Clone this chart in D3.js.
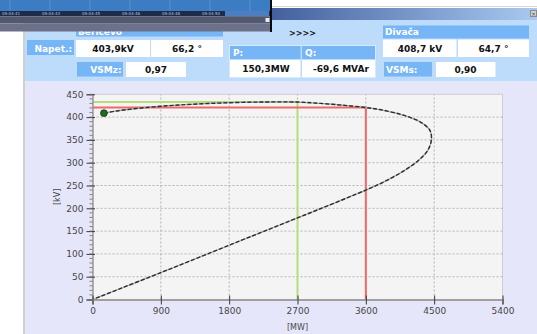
<!DOCTYPE html>
<html>
<head>
<meta charset="utf-8">
<script src="https://cdn.jsdelivr.net/npm/d3@7"></script>
<style>
  html, body { margin: 0; padding: 0; background: #ffffff; }
  svg { display: block; font-family: "DejaVu Sans", Verdana, sans-serif; }
</style>
</head>
<body>
<svg id="view" width="537" height="334"></svg>
<script>
// P-V nose curve of the line, receiving-end voltage against transferred power
const curveP = [150.3, 320, 650, 1000, 1300, 1700, 2200, 2700, 3000, 3300, 3600, 3800, 4100, 4320, 4440, 4465,
                4420, 4300, 4100, 3850, 3600, 3000, 2400, 1800, 900, 0];
const curveV = [408.7, 413.5, 420, 425, 428, 431, 433, 433, 430, 426, 421, 416, 404, 389, 372, 353,
                328, 306, 282, 259, 240, 199, 159, 119, 59, 0];

// operating point and the two limit markers
const opP = 150.3, opV = 408.7;
const redP = 3600, redV = 421;
const greenP = 2700, greenV = 433;

// axes
const xTicks = [0, 900, 1800, 2700, 3600, 4500, 5400];
const yTicks = [0, 50, 100, 150, 200, 250, 300, 350, 400, 450];
const yMinor = d3.range(0, 451, 10);

// measurement panel
const sendName = "Beričevo", recvName = "Divača";
const sendU = "403,9kV", sendAng = "66,2 °", sendVsm = "0,97";
const recvU = "408,7 kV", recvAng = "64,7 °", recvVsm = "0,90";
const flowP = "150,3MW", flowQ = "-69,6 MVAr";
const timeLabels = ["09:04:41", "09:04:43", "09:04:45", "09:04:46", "09:04:48", "09:04:50"];

const svg = d3.select("#view");
const defs = svg.append("defs");
const grad = defs.append("linearGradient").attr("id", "titleGrad");
grad.append("stop").attr("offset", "0%").attr("stop-color", "#44609e");
grad.append("stop").attr("offset", "100%").attr("stop-color", "#a9c9f0");

// window background
svg.append("rect").attr("x", 0).attr("y", 0).attr("width", 537).attr("height", 334).attr("fill", "#ffffff");
svg.append("rect").attr("x", 272).attr("y", 6).attr("width", 265).attr("height", 1).attr("fill", "#d8d8d8");
svg.append("rect").attr("x", 272).attr("y", 8).attr("width", 265).attr("height", 12).attr("fill", "url(#titleGrad)");
svg.append("rect").attr("x", 530.5).attr("y", 10.5).attr("width", 6).attr("height", 6)
  .attr("fill", "#d4d4d4").attr("stroke", "#8a8a8a");
svg.append("text").attr("x", 533.5).attr("y", 15.5).attr("text-anchor", "middle")
  .attr("font-size", 6).attr("fill", "#444").text("×");

svg.append("rect").attr("x", 23).attr("y", 20).attr("width", 2).attr("height", 314).attr("fill", "#cfcfcf");
svg.append("rect").attr("x", 25).attr("y", 20).attr("width", 512).attr("height", 61.5).attr("fill", "#bddbfb");
svg.append("rect").attr("x", 25).attr("y", 81.5).attr("width", 512).attr("height", 252.5).attr("fill", "#e6e6fa");

// panel helpers
const labelFill = "#76b6f6";
function box(x, y, w, h, fill) {
  svg.append("rect").attr("x", x).attr("y", y).attr("width", w).attr("height", h).attr("fill", fill);
}
function txt(x, y, s, opts) {
  opts = opts || {};
  svg.append("text").attr("x", x).attr("y", y)
    .attr("text-anchor", opts.anchor || "middle")
    .attr("dominant-baseline", "central")
    .attr("font-size", opts.size || 9)
    .attr("font-weight", "bold")
    .attr("fill", opts.fill || "#111")
    .text(s);
}

// sending end
box(76, 24, 147, 12.5, labelFill);
txt(78, 31.5, sendName, { anchor: "start", fill: "#ffffff" });
box(27, 40, 47, 15, labelFill);
txt(72, 48.5, "Napet.:", { anchor: "end", fill: "#ffffff" });
box(76, 40, 74, 17, "#ffffff");
txt(113, 48.5, sendU);
box(151, 40, 72, 17, "#ffffff");
txt(187, 48.5, sendAng);
box(77, 62, 46, 14.5, labelFill);
txt(121.5, 69.5, "VSMz:", { anchor: "end", fill: "#ffffff" });
box(126, 62, 60, 15, "#ffffff");
txt(156, 69.5, sendVsm);

// power flow
txt(302.5, 33.5, ">>>>", { size: 8 });
svg.append("rect").attr("x", 229.5).attr("y", 45.5).attr("width", 146).attr("height", 32)
  .attr("fill", "none").attr("stroke", "#d6eaff");
box(230, 46, 70.5, 13, labelFill);
txt(233, 52.5, "P:", { anchor: "start", fill: "#ffffff" });
box(302, 46, 73, 13, labelFill);
txt(305, 52.5, "Q:", { anchor: "start", fill: "#ffffff" });
box(230, 60, 70.5, 17, "#ffffff");
txt(266, 68.5, flowP);
box(302, 60, 73, 17, "#ffffff");
txt(341, 68.5, flowQ);

// receiving end
box(383, 25.5, 146, 13, labelFill);
txt(385, 32, recvName, { anchor: "start", fill: "#ffffff" });
box(383, 39.5, 73.5, 17.5, "#ffffff");
txt(420, 48.5, recvU);
box(458, 39.5, 71, 17.5, "#ffffff");
txt(493.5, 48.5, recvAng);
box(384, 62, 48, 14.5, labelFill);
txt(386, 69.5, "VSMs:", { anchor: "start", fill: "#ffffff" });
box(436, 62, 59.5, 15, "#ffffff");
txt(465.5, 69.5, recvVsm);

// chart
const x = d3.scaleLinear().domain([0, 5400]).range([92.5, 502.5]);
const y = d3.scaleLinear().domain([0, 450]).range([299.5, 94.3]);

const plot = svg.append("g");
plot.append("rect").attr("x", x(0)).attr("y", y(450)).attr("width", x(5400) - x(0)).attr("height", y(0) - y(450))
  .attr("fill", "#f4f4f4").attr("stroke", "#cdcdcd");

// dotted grid
plot.selectAll("line.gx").data(xTicks.slice(1, -1)).join("line").attr("class", "gx")
  .attr("x1", d => x(d)).attr("x2", d => x(d)).attr("y1", y(0)).attr("y2", y(450))
  .attr("stroke", "#b4b4b4").attr("stroke-dasharray", "2,2");
plot.selectAll("line.gy").data(yTicks.slice(1, -1)).join("line").attr("class", "gy")
  .attr("x1", x(0)).attr("x2", x(5400)).attr("y1", d => y(d)).attr("y2", d => y(d))
  .attr("stroke", "#b4b4b4").attr("stroke-dasharray", "2,2");

// limit markers
plot.append("path")
  .attr("d", `M${x(0)},${y(greenV)}H${x(greenP)}V${y(0)}`)
  .attr("fill", "none").attr("stroke", "#b6dc7c").attr("stroke-width", 2);
plot.append("path")
  .attr("d", `M${x(0)},${y(redV)}H${x(redP)}V${y(0)}`)
  .attr("fill", "none").attr("stroke", "#f06868").attr("stroke-width", 2);

// nose curve
const pts = curveP.map((p, i) => [p, curveV[i]]);
const line = d3.line().x(d => x(d[0])).y(d => y(d[1])).curve(d3.curveCatmullRom.alpha(0.5));
plot.append("path").attr("d", line(pts)).attr("fill", "none")
  .attr("stroke", "#a8a8a8").attr("stroke-width", 1.3);
plot.append("path").attr("d", line(pts)).attr("fill", "none")
  .attr("stroke", "#2e2e2e").attr("stroke-width", 1.4).attr("stroke-dasharray", "4,2");

// operating point
plot.append("circle").attr("cx", x(opP)).attr("cy", y(opV)).attr("r", 3.4)
  .attr("fill", "#1f6a1f").attr("stroke", "#0e3e0e").attr("stroke-width", 0.8);

// axes
const yAxis = svg.append("g").attr("transform", `translate(${x(0)},0)`)
  .call(d3.axisLeft(y).tickValues(yTicks).tickFormat(d3.format("d")).tickSize(6).tickPadding(3));
yAxis.select(".domain").attr("stroke", "#9a9a9a").attr("stroke-width", 1.5);
yAxis.selectAll(".tick line").attr("stroke", "#3a3a3a").attr("x2", 2.5).attr("x1", -6);
yAxis.selectAll(".tick text").attr("font-size", 9).attr("fill", "#474747")
  .attr("font-family", "DejaVu Sans, sans-serif");
svg.append("g").selectAll("line").data(yMinor).join("line")
  .attr("x1", x(0) - 3).attr("x2", x(0)).attr("y1", d => y(d)).attr("y2", d => y(d))
  .attr("stroke", "#6a6a6a").attr("stroke-width", 0.8);

const xAxis = svg.append("g").attr("transform", `translate(0,${y(0)})`)
  .call(d3.axisBottom(x).tickValues(xTicks).tickFormat(d3.format("d")).tickSize(5).tickPadding(3));
xAxis.select(".domain").attr("stroke", "#a0a0a0").attr("stroke-width", 2);
xAxis.selectAll(".tick line").attr("stroke", "#3a3a3a").attr("y1", -4).attr("y2", 5);
xAxis.selectAll(".tick text").attr("font-size", 9).attr("fill", "#474747")
  .attr("font-family", "DejaVu Sans, sans-serif");

svg.append("text").attr("x", (x(0) + x(5400)) / 2).attr("y", 327).attr("text-anchor", "middle")
  .attr("dominant-baseline", "central").attr("font-size", 8).attr("fill", "#474747").text("[MW]");
svg.append("text").attr("transform", `translate(57,${(y(0) + y(450)) / 2}) rotate(-90)`)
  .attr("text-anchor", "middle").attr("dominant-baseline", "central")
  .attr("font-size", 8).attr("fill", "#474747").text("[kV]");

// trend window overlapping the top-left corner
const win = svg.append("g");
win.append("rect").attr("x", 0).attr("y", 0).attr("width", 271).attr("height", 11).attr("fill", "#3c7cc2");
win.selectAll("line.wl").data(d3.range(10, 270, 40)).join("line").attr("class", "wl")
  .attr("x1", d => d).attr("x2", d => d).attr("y1", 0).attr("y2", 11)
  .attr("stroke", "#5a92cc").attr("stroke-width", 1);
win.append("rect").attr("x", 0).attr("y", 11).attr("width", 271).attr("height", 5.5).attr("fill", "#1e2c4a");
win.append("rect").attr("x", 225).attr("y", 11).attr("width", 44).attr("height", 5.5).attr("fill", "#4d7fc0");
win.selectAll("text.tl").data(timeLabels).join("text").attr("class", "tl")
  .attr("x", (d, i) => 2 + i * 40).attr("y", 15.2)
  .attr("font-size", 4).attr("fill", "#b4c2da").text(d => d);
win.append("rect").attr("x", 0).attr("y", 16.5).attr("width", 271).attr("height", 7).attr("fill", "#52586e");
win.append("rect").attr("x", 0).attr("y", 23.5).attr("width", 271).attr("height", 8).attr("fill", "#6c7189");
win.append("rect").attr("x", 265.5).attr("y", 18).attr("width", 4).attr("height", 4).attr("fill", "#e6e8f2");
win.append("rect").attr("x", 270).attr("y", 0).attr("width", 2).attr("height", 32).attr("fill", "#0a0a0a");
</script>
</body>
</html>
